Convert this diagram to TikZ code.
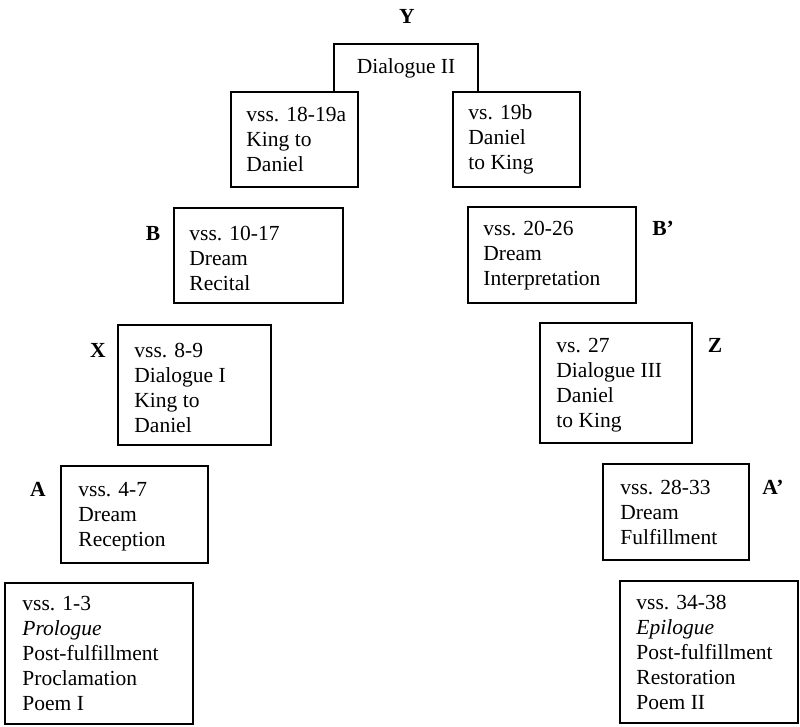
\documentclass[tikz,border=0pt]{standalone}
\usepackage{fontspec}
\setmainfont{Liberation Serif}
\usetikzlibrary{fit}
\begin{document}
\begin{tikzpicture}[x=1pt,y=-1pt,
  boxline/.style={line width=1.5pt, line join=miter},
  box/.style={draw, boxline, inner sep=0pt, rectangle},
  txt/.style={font=\fontsize{21.5}{25}\selectfont, align=left, inner sep=0pt, anchor=west},
  lbl/.style={font=\fontsize{21.5}{25}\selectfont\bfseries, inner sep=0pt, anchor=base}]
\useasboundingbox (0,0) rectangle (800,726);

% top box (open at bottom)
\node[inner sep=0pt, fit={(334,44) (478,92)}] (D2) {};
\draw[boxline] (D2.south west) -- (D2.north west) -- (D2.north east) -- (D2.south east);
\node[txt, anchor=center] (tD2) at (D2.center) {Dialogue II};
\node[lbl, anchor=center] (lY) at (407,16) {Y};

% boxes
\node[box, fit={(231,92) (358,187)}] (KD) {};
\node[box, fit={(453,92) (580,187)}] (DK) {};
\node[box, fit={(174,208) (343,303)}] (B) {};
\node[box, fit={(468,207) (636,303)}] (Bp) {};
\node[box, fit={(118,325) (271,445)}] (X) {};
\node[box, fit={(540,323) (692,443)}] (Z) {};
\node[box, fit={(61,466) (208,563)}] (A) {};
\node[box, fit={(603,464) (749,560)}] (Ap) {};
\node[box, fit={(5,583) (193,724)}] (P) {};
\node[box, fit={(620,581) (798,723)}] (E) {};

% texts
\node[txt] (tKD) at ([xshift=16pt]KD.west) {vss. 18-19a\\King to\\Daniel};
\node[txt] (tDK) at ([xshift=16pt]DK.west) {vs. 19b\\Daniel\\to King};
\node[txt] (tB) at ([xshift=16pt,yshift=-3pt]B.west) {vss. 10-17\\Dream\\Recital};
\node[txt] (tBp) at ([xshift=16pt,yshift=-1pt]Bp.west) {vss. 20-26\\Dream\\Interpretation};
\node[txt] (tX) at ([xshift=17pt,yshift=-3pt]X.west) {vss. 8-9\\Dialogue I\\King to\\Daniel};
\node[txt] (tZ) at ([xshift=17pt,yshift=-2pt]Z.west) {vs. 27\\Dialogue III\\Daniel\\to King};
\node[txt] (tA) at ([xshift=18pt,yshift=-2pt]A.west) {vss. 4-7\\Dream\\Reception};
\node[txt] (tAp) at ([xshift=18pt]Ap.west) {vss. 28-33\\Dream\\Fulfillment};
\node[txt] (tP) at ([xshift=18pt]P.west) {vss. 1-3\\\textit{Prologue}\\Post-fulfillment\\Proclamation\\Poem I};
\node[txt] (tE) at ([xshift=17pt]E.west) {vss. 34-38\\\textit{Epilogue}\\Post-fulfillment\\Restoration\\Poem II};

% side labels aligned with first lines
\coordinate (fB) at ([yshift=-14.5pt]tB.north);
\coordinate (fBp) at ([yshift=-14.5pt]tBp.north);
\coordinate (fX) at ([yshift=-14.5pt]tX.north);
\coordinate (fZ) at ([yshift=-14.5pt]tZ.north);
\coordinate (fA) at ([yshift=-14.5pt]tA.north);
\coordinate (fAp) at ([yshift=-14.5pt]tAp.north);
\node[lbl] (lB) at (fB -| 153,0) {B};
\node[lbl] (lBp) at (fBp -| 663,0) {B'};
\node[lbl] (lX) at (fX -| 98,0) {X};
\node[lbl] (lZ) at (fZ -| 715,0) {Z};
\node[lbl] (lA) at (fA -| 38,0) {A};
\node[lbl] (lAp) at (fAp -| 773,0) {A'};
\end{tikzpicture}
\end{document}
